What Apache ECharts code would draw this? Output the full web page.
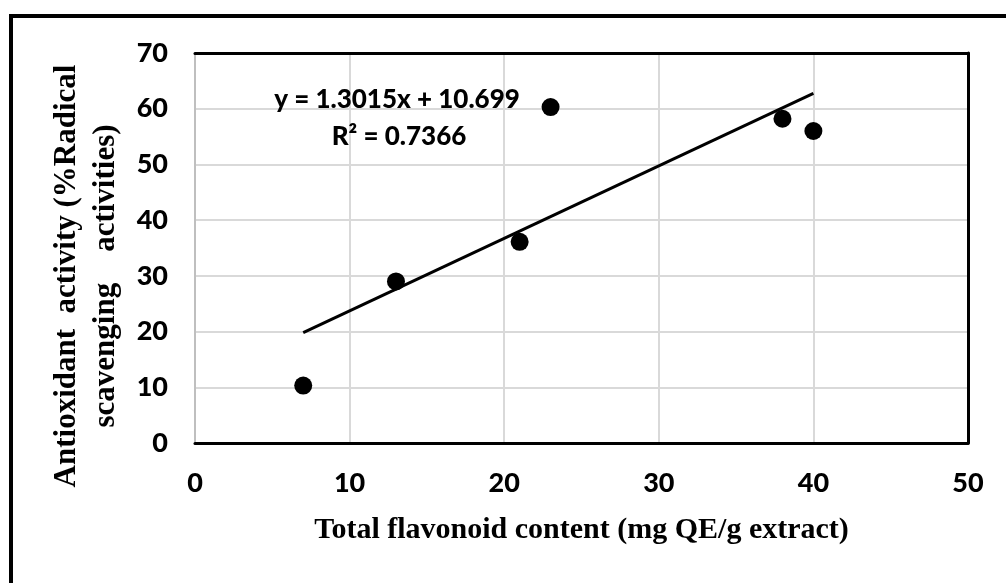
<!DOCTYPE html>
<html>
<head>
<meta charset="utf-8">
<script src="https://cdn.jsdelivr.net/npm/echarts@6/dist/echarts.min.js"></script>
<style>
html,body{margin:0;padding:0;background:#fff;}
#chart{width:1006px;height:583px;}
</style>
</head>
<body>
<div id="chart"></div>
<script>
// Data
const flavonoid = [7, 13, 21, 23, 38, 40];
const antioxidant = [10.3, 29.0, 36.1, 60.3, 58.2, 56.0];
// Trendline (linear, from chart's equation)
const slope = 1.3015;
const intercept = 10.699;
const rSquared = 0.7366;
const xTicks = [0, 10, 20, 30, 40, 50];
const yTicks = [0, 10, 20, 30, 40, 50, 60, 70];
const xTitle = 'Total flavonoid content (mg QE/g extract)';
const yTitle = 'Antioxidant  activity (%Radical\nscavenging    activities)';

const points = flavonoid.map((x, i) => [x, antioxidant[i]]);
const xMinData = Math.min(...flavonoid), xMaxData = Math.max(...flavonoid);
const trend = [[xMinData, slope * xMinData + intercept], [xMaxData, slope * xMaxData + intercept]];

const tickFont = { fontFamily: 'Lato', fontWeight: 900, fontSize: 27, color: '#000' };
const gridGray = '#d9d9d9';

const chart = echarts.init(document.getElementById('chart'), null, { renderer: 'canvas' });
chart.setOption({
  backgroundColor: '#fff',
  animation: false,
  grid: { left: 195, right: 38, top: 53, bottom: 140 },
  xAxis: [{
    type: 'value', min: xTicks[0], max: xTicks[xTicks.length - 1], interval: 10,
    axisLine: { lineStyle: { color: '#000', width: 3 } },
    axisTick: { show: false },
    splitLine: { lineStyle: { color: gridGray, width: 2 } },
    axisLabel: Object.assign({ margin: 27 }, tickFont),
    name: xTitle, nameLocation: 'middle', nameGap: 72,
    nameTextStyle: { fontFamily: 'Liberation Serif', fontWeight: 'bold', fontSize: 30, color: '#000' }
  }, {
    type: 'value', position: 'top', min: 0, max: 50, interval: 10,
    axisLine: { show: true, onZero: false, lineStyle: { color: '#000', width: 3 } },
    axisTick: { show: false }, axisLabel: { show: false }, splitLine: { show: false }
  }],
  yAxis: [{
    type: 'value', min: yTicks[0], max: yTicks[yTicks.length - 1], interval: 10,
    axisLine: { show: true, lineStyle: { color: '#bfbfbf', width: 2 } },
    axisTick: { show: false },
    splitLine: { lineStyle: { color: gridGray, width: 2 } },
    axisLabel: Object.assign({ margin: 27 }, tickFont),
    name: yTitle, nameLocation: 'middle', nameRotate: 90, nameGap: 64,
    nameTextStyle: { fontFamily: 'Liberation Serif', fontWeight: 'bold', fontSize: 31, color: '#000', lineHeight: 39, padding: [0, 56, 0, 0] }
  }, {
    type: 'value', position: 'right', min: 0, max: 70, interval: 10,
    axisLine: { show: true, onZero: false, lineStyle: { color: '#000', width: 3 } },
    axisTick: { show: false }, axisLabel: { show: false }, splitLine: { show: false }
  }],
  series: [{
    type: 'line', data: trend, xAxisIndex: 0, yAxisIndex: 0,
    symbol: 'none', lineStyle: { color: '#000', width: 3 }, z: 3
  }, {
    type: 'scatter', data: points, xAxisIndex: 0, yAxisIndex: 0,
    symbol: 'circle', symbolSize: 18, itemStyle: { color: '#000', opacity: 1 }, z: 4
  }],
  graphic: [
    { type: 'line', z: 100, shape: { x1: 11, y1: 14, x2: 11, y2: 583 }, style: { stroke: '#000', lineWidth: 4 } },
    { type: 'line', z: 100, shape: { x1: 9, y1: 16, x2: 1006, y2: 16 }, style: { stroke: '#000', lineWidth: 4 } },
    { type: 'text', z: 100, x: 397, y: 100, style: { text: 'y = 1.3015x + 10.699', font: '900 26px Lato', fill: '#000', align: 'center', verticalAlign: 'middle' } },
    { type: 'text', z: 100, x: 399, y: 137, style: { text: 'R² = ' + rSquared, font: '900 26px Lato', fill: '#000', align: 'center', verticalAlign: 'middle' } }
  ]
});
</script>
</body>
</html>
